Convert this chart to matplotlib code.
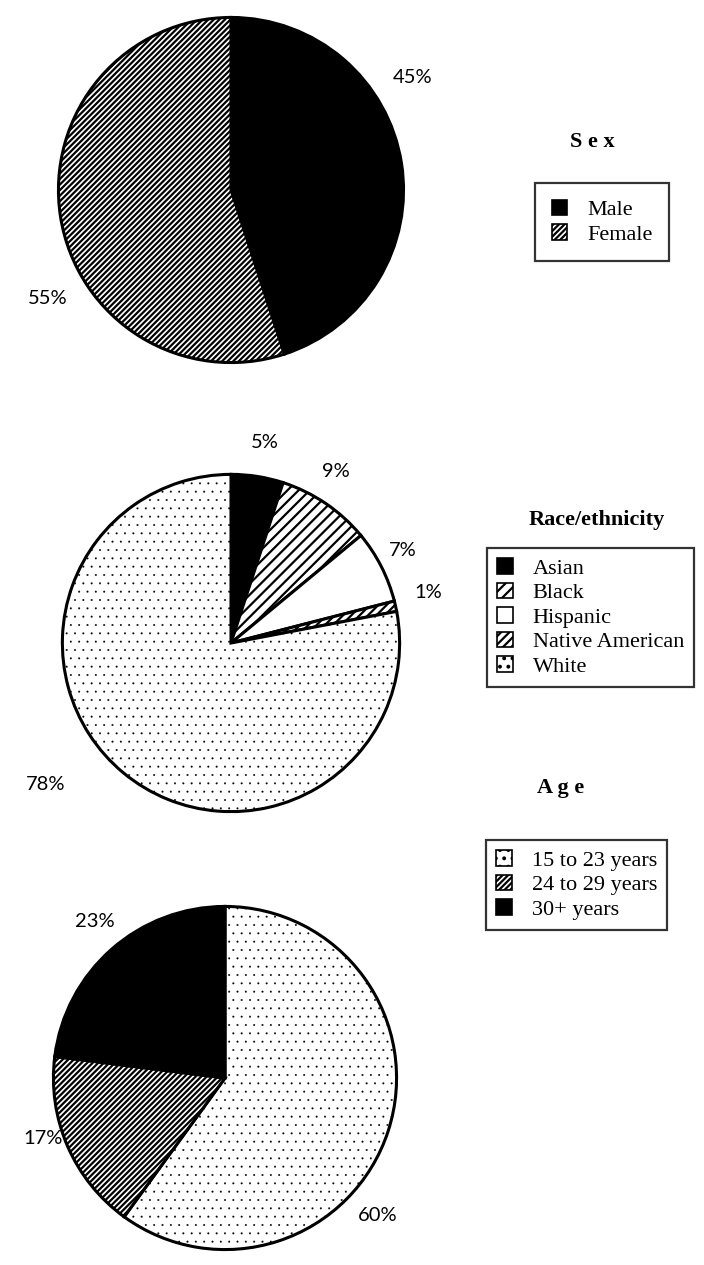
import matplotlib
matplotlib.use("Agg")
import matplotlib.pyplot as plt
from matplotlib.patches import Patch
import numpy as np

plt.rcParams['font.family'] = ['Liberation Serif', 'DejaVu Serif']
plt.rcParams['hatch.linewidth'] = 1.6

# data
sex_labels = ['Male', 'Female']
sex_values = [45, 55]

race_labels = ['Asian', 'Black', 'Hispanic', 'Native American', 'White']
race_values = [5, 9, 7, 1, 78]

age_labels = ['15 to 23 years', '24 to 29 years', '30+ years']
age_values = [60, 17, 23]

# fills (facecolor, hatch) per slice
sex_fill = [('black', None), ('white', '//////')]
race_fill = [('black', None), ('white', '///'), ('white', None), ('white', '////'), ('white', '..')]
age_fill = [('white', '..'), ('white', '//////'), ('black', None)]

W, H = 704, 1265
fig = plt.figure(figsize=(W / 100, H / 100), dpi=100)


def set_fill(p, hatch):
    if hatch:
        p.set_hatch(hatch)
        if '.' in hatch and hasattr(p, 'set_hatch_linewidth'):
            p.set_hatch_linewidth(0.2)


def pie_axes(cx, cy, r):
    # pixel center/radius (top-down) -> figure fraction axes
    return fig.add_axes([(cx - r) / W, 1 - (cy + r) / H, 2 * r / W, 2 * r / H])


def draw_pie(ax, values, fill, label_pos):
    wedges, _ = ax.pie(values, startangle=90, counterclock=False, radius=1,
                       colors=[f[0] for f in fill],
                       wedgeprops=dict(edgecolor='black', linewidth=2.2))
    for w, f in zip(wedges, fill):
        set_fill(w, f[1])
    ax.set_xlim(-1.02, 1.02)
    ax.set_ylim(-1.02, 1.02)
    ax.set_aspect('equal')
    ax.axis('off')
    for v, (lx, ly) in zip(values, label_pos):
        ax.text(lx, ly, f'{v}%', ha='center', va='center', fontsize=14.5,
                family=['Lato', 'DejaVu Sans'], clip_on=False)
    return wedges


def legend_block(title, title_xy, labels, fill, box_xy, pad):
    fig.text(title_xy[0] / W, 1 - title_xy[1] / H, title, ha='center',
             va='center', fontsize=16, fontweight='bold')
    handles = []
    for f in fill:
        p = Patch(facecolor=f[0], edgecolor='black', linewidth=1.2)
        set_fill(p, f[1])
        handles.append(p)
    leg = fig.legend(handles, labels, loc='upper left',
                     bbox_to_anchor=(box_xy[0] / W, 1 - box_xy[1] / H),
                     frameon=True, fancybox=False, edgecolor='black',
                     fontsize=16, handlelength=0.7, handleheight=0.7,
                     handletextpad=0.9, labelspacing=0.18, borderpad=pad,
                     borderaxespad=0)
    leg.get_frame().set_linewidth(1.6)


ax1 = pie_axes(231, 190, 176)
draw_pie(ax1, sex_values, sex_fill, [(1.05, 0.65), (-1.06, -0.63)])
legend_block('S e x', (592, 142), sex_labels, sex_fill, (535, 183), 0.75)

ax2 = pie_axes(231, 643, 172)
draw_pie(ax2, race_values, race_fill,
         [(0.2, 1.19), (0.62, 1.02), (1.02, 0.55), (1.17, 0.30), (-1.10, -0.84)])
legend_block('Race/ethnicity', (597, 520), race_labels, race_fill, (487, 548), 0.45)

ax3 = pie_axes(225, 1078, 175)
draw_pie(ax3, age_values, age_fill, [(0.89, -0.80), (-1.06, -0.35), (-0.76, 0.91)])
legend_block('A g e', (561, 788), age_labels, age_fill, (486, 840), 0.45)

fig.savefig('out.png', dpi=100)
